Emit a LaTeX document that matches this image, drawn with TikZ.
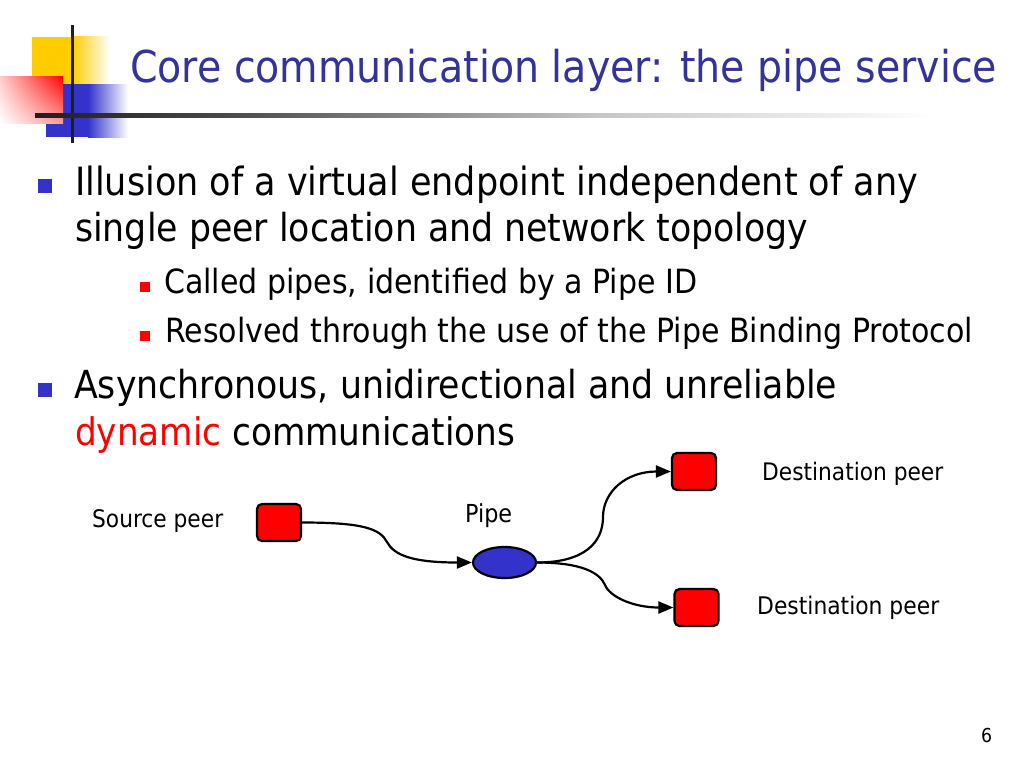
\documentclass[tikz,border=0pt]{standalone}
\usepackage{fontspec}
\setmainfont{DejaVu Sans Condensed}
\usetikzlibrary{arrows.meta,shapes.geometric,shadings}
\definecolor{titleblue}{HTML}{333399}
\definecolor{bulletblue}{HTML}{3333CC}
\definecolor{logoyellow}{HTML}{FFCC00}
\definecolor{peerred}{HTML}{FF0000}
\newcommand{\fitto}[2]{\resizebox{#1}{!}{#2}}
\begin{document}
\begin{tikzpicture}[x=1pt,y=-1pt,
  txt/.style={inner sep=0pt, anchor=base west},
  lbl/.style={inner sep=0pt, anchor=base west, font=\fontsize{24pt}{28pt}\selectfont},
  peer/.style={draw=black, line width=2.2pt, fill=peerred, rounded corners=5pt, minimum width=44pt, minimum height=37pt, inner sep=0pt},
  pipeshape/.style={ellipse, draw=black, line width=2.2pt, fill=bulletblue, minimum width=63pt, minimum height=31pt, inner sep=0pt},
  flow/.style={line width=2.2pt, -{Triangle[length=15pt,width=12pt]}},
  bigbullet/.style={fill=bulletblue, minimum size=14pt, inner sep=0pt},
  smallbullet/.style={fill=peerred, minimum size=10pt, inner sep=0pt}
]
\useasboundingbox (0,0) rectangle (1024,768);
\fill[white] (0,0) rectangle (1024,768);

% logo
\fill[logoyellow] (32,37) rectangle (72,84);
\shade[left color=logoyellow, right color=white] (72,37) rectangle (110,84);
\fill[bulletblue] (46,84) rectangle (88,137);
\shade[left color=bulletblue, right color=white] (88,84) rectangle (128,137);
\shade[upper left=red!20, upper right=red, lower left=white, lower right=red!40] (0,76) rectangle (63,123);
\fill[black!88] (71.2,25) rectangle (74.2,143);
\shade[left color=black!88, right color=black!72] (35,113) rectangle (220,117);
\shade[left color=black!72, right color=black!22] (220,113) rectangle (600,117);
\shade[left color=black!22, right color=white] (600,113) rectangle (935,117);

% title
\node[txt] (title) at (130,82) {\fontsize{45pt}{54pt}\selectfont\color{titleblue}\fitto{867pt}{Core communication layer: the pipe service}};

% bullets
\node[bigbullet] (b1) at (45,186) {};
\node[txt] (l1) at (75,195) {\fontsize{37pt}{44pt}\selectfont\fitto{843pt}{Illusion of a virtual endpoint independent of any}};
\node[txt] (l2) at (75,241) {\fontsize{37pt}{44pt}\selectfont\fitto{733pt}{single peer location and network topology}};
\node[smallbullet] (s1) at (145,287) {};
\node[txt] (l3) at (164,293) {\fontsize{33pt}{40pt}\selectfont\fitto{533pt}{Called pipes, identified by a Pipe ID}};
\node[smallbullet] (s2) at (145,336) {};
\node[txt] (l4) at (165,342) {\fontsize{33pt}{40pt}\selectfont\fitto{808pt}{Resolved through the use of the Pipe Binding Protocol}};
\node[bigbullet] (b2) at (45,390) {};
\node[txt] (l5) at (74,398) {\fontsize{37pt}{44pt}\selectfont\fitto{763pt}{Asynchronous, unidirectional and unreliable}};
\node[txt] (l6) at (75,445) {\fontsize{37pt}{44pt}\selectfont\fitto{440pt}{\textcolor{red}{dynamic} communications}};

% diagram
\node[peer] (src) at (279,522.5) {};
\node[pipeshape] (pipe) at (504.5,562.5) {};
\node[peer] (dst1) at (694,471.5) {};
\node[peer] (dst2) at (696.5,607.5) {};

\node[lbl] (srclbl) at (92,527) {\fitto{131pt}{Source peer}};
\node[lbl] (pipelbl) at (465,522) {\fitto{47pt}{Pipe}};
\node[lbl] (d1lbl) at (762,480) {\fitto{181pt}{Destination peer}};
\node[lbl] (d2lbl) at (757,614) {\fitto{182pt}{Destination peer}};
\node[lbl] (pagenum) at (981,742) {\fitto{11pt}{6}};

\coordinate (m1) at (387,542);
\coordinate (m2) at (603,517);
\coordinate (m3) at (605,585);
\draw[flow] (src.east) .. controls +(62,0) and +(-7,-13) .. (m1) .. controls +(7,13) and +(-60,0) .. (pipe.west);
\draw[flow] (pipe.east) .. controls +(48,0) and +(0,25) .. (m2) .. controls +(0,-25) and +(-45,0) .. (dst1.west);
\draw[flow] (pipe.east) .. controls +(45,0) and +(-5,-12) .. (m3) .. controls +(5,12) and +(-40,0) .. (dst2.west);
\end{tikzpicture}
\end{document}
